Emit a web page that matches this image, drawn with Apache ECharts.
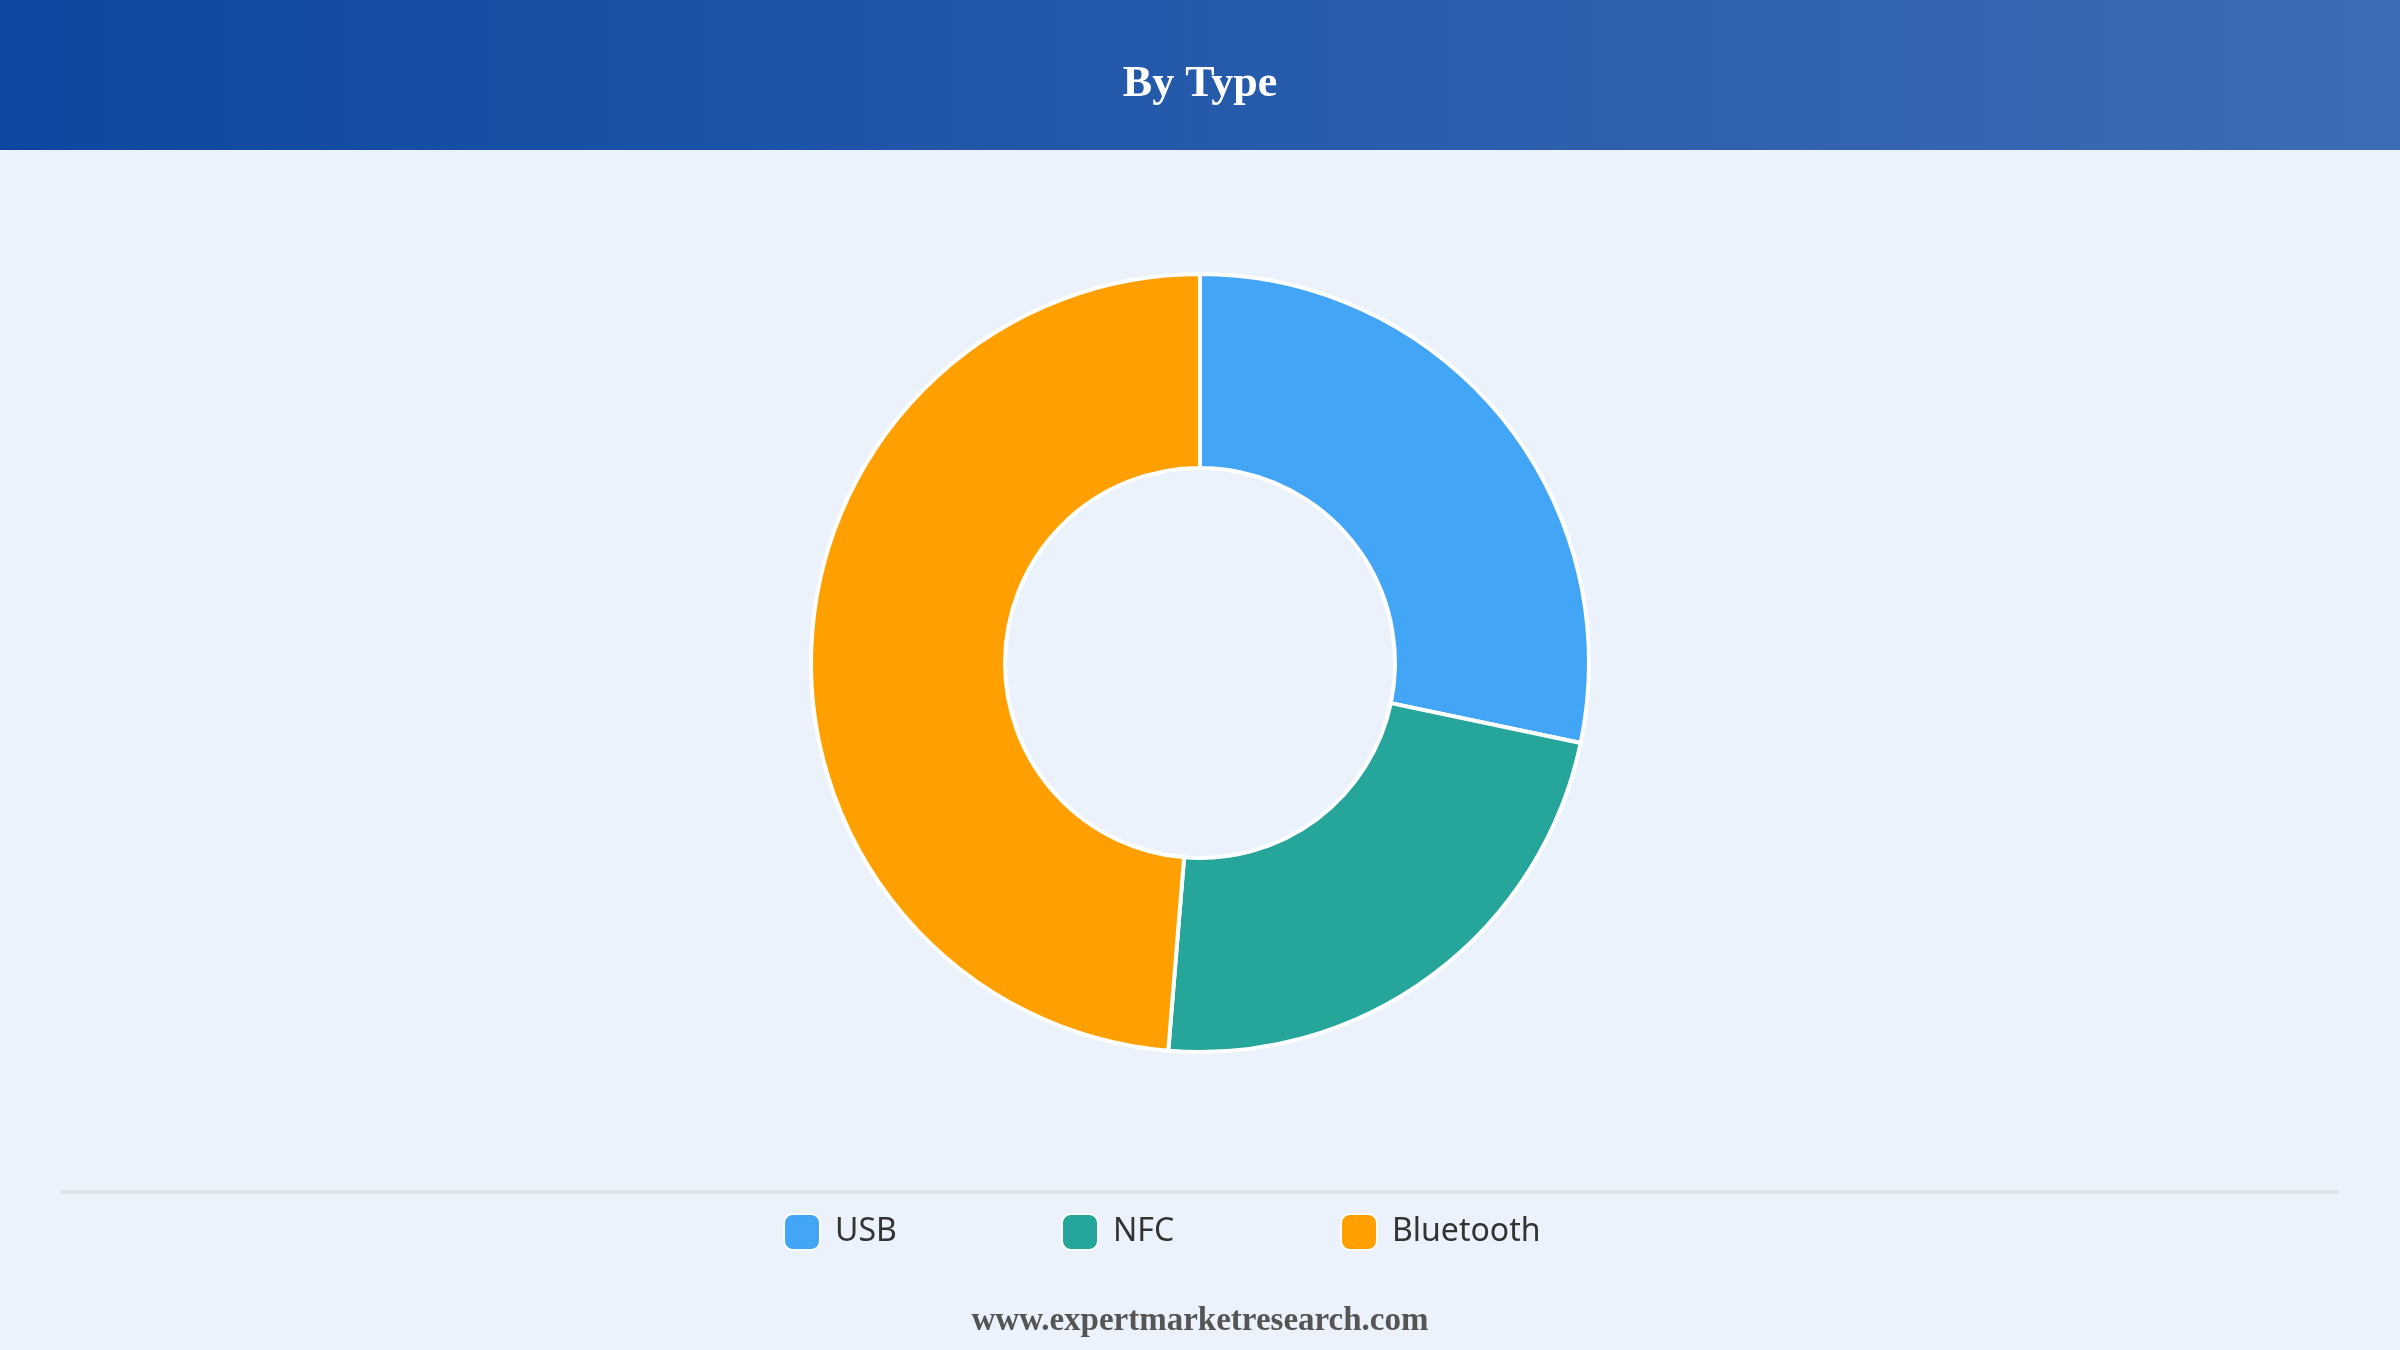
<!DOCTYPE html>
<html>
<head>
<meta charset="utf-8">
<script src="https://cdn.jsdelivr.net/npm/echarts@6/dist/echarts.min.js"></script>
<style>
html,body{margin:0;padding:0;background:#ebf2fb;}
#c{width:2400px;height:1350px;}
</style>
</head>
<body>
<div id="c"></div>
<script>
const categories = ['USB', 'NFC', 'Bluetooth'];
const shares = [28.3, 23.0, 48.7];
const colors = ['#42a5f5', '#26a69a', '#ffa000'];
const titleText = 'By Type';
const footerText = 'www.expertmarketresearch.com';

const legendLefts = [783, 1061, 1340];

const chart = echarts.init(document.getElementById('c'));
chart.setOption({
  backgroundColor: '#ebf2fb',
  animation: false,
  graphic: [
    {
      type: 'rect', left: 0, top: 0, z: -1,
      shape: { width: 2400, height: 150 },
      style: {
        fill: new echarts.graphic.LinearGradient(0, 0, 1, 0, [
          { offset: 0, color: '#0d47a1' },
          { offset: 1, color: '#3e6cb4' }
        ])
      }
    },
    {
      type: 'line', z: 1,
      shape: { x1: 60, y1: 1192, x2: 2339, y2: 1192 },
      style: { stroke: '#dcdfe4', lineWidth: 3 }
    },
    {
      type: 'text', left: 'center', top: 1305,
      style: {
        text: footerText,
        font: 'bold 33px "Liberation Serif", "Times New Roman", serif',
        fill: '#555555'
      }
    }
  ],
  title: {
    text: titleText,
    left: 'center',
    top: 58,
    textStyle: {
      color: '#ffffff',
      fontFamily: '"Liberation Serif", "Times New Roman", serif',
      fontWeight: 'bold',
      fontSize: 44
    }
  },
  legend: categories.map((name, i) => ({
    data: [name],
    left: legendLefts[i],
    top: 1213,
    padding: 0,
    itemWidth: 36,
    itemHeight: 36,
    icon: 'roundRect',
    textStyle: {
      color: '#333333',
      fontFamily: '"Noto Sans", "Open Sans", sans-serif',
      fontSize: 32,
      padding: [0, 0, 0, 10]
    }
  })),
  series: [{
    type: 'pie',
    center: [1200, 663],
    radius: [195, 389],
    startAngle: 90,
    clockwise: true,
    label: { show: false },
    labelLine: { show: false },
    itemStyle: { borderColor: '#ffffff', borderWidth: 4 },
    emphasis: { disabled: true },
    data: categories.map((n, i) => ({ name: n, value: shares[i], itemStyle: { color: colors[i] } }))
  }]
});
</script>
</body>
</html>
